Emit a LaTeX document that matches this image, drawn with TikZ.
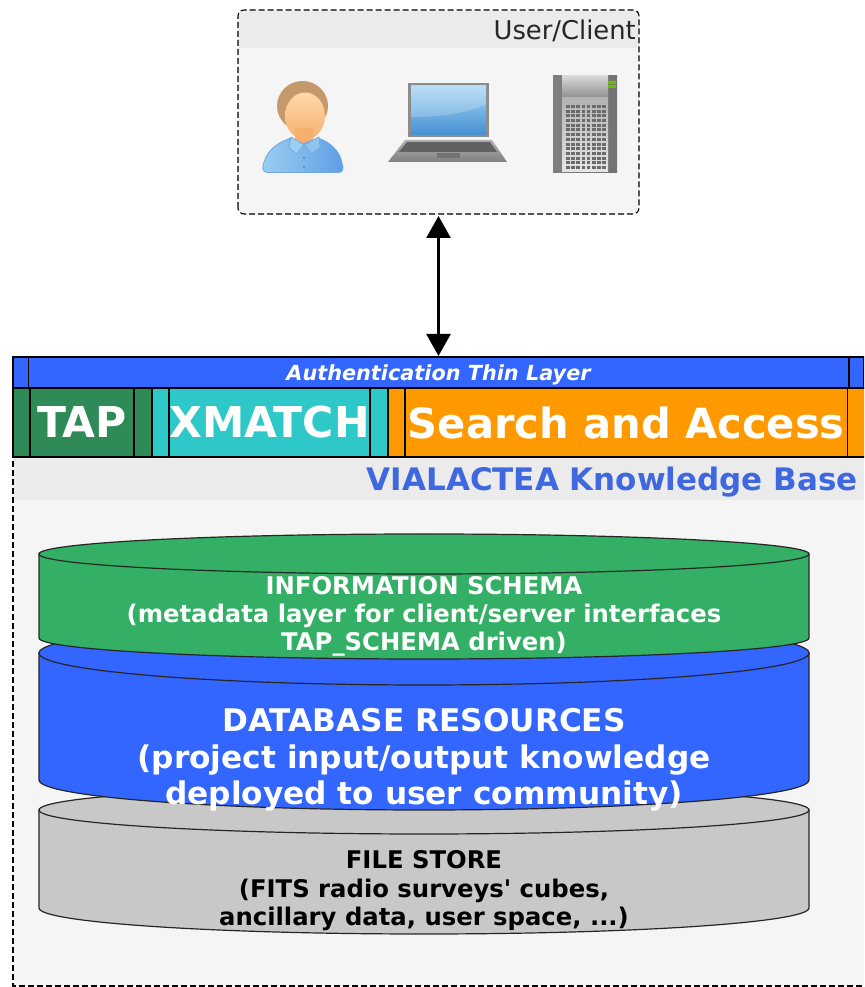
\documentclass[tikz,border=0pt]{standalone}
\usepackage{fontspec}
\setmainfont{DejaVu Sans}
\usetikzlibrary{arrows.meta,calc}
\definecolor{panelc}{HTML}{F5F5F5}
\definecolor{headc}{HTML}{EBEBEB}
\definecolor{authc}{HTML}{3366FF}
\definecolor{tapc}{HTML}{2E8B57}
\definecolor{xmc}{HTML}{2EC8C8}
\definecolor{orc}{HTML}{FF9900}
\definecolor{grnc}{HTML}{33B065}
\definecolor{gryc}{HTML}{C8C8C8}
\definecolor{kbc}{HTML}{3F68E0}
\definecolor{hairc}{HTML}{C49A6C}
\definecolor{facet}{HTML}{FFD9A8}
\definecolor{faceb}{HTML}{F5B070}
\definecolor{shirtl}{HTML}{9CCDF2}
\definecolor{shirtr}{HTML}{5E9FE4}
\definecolor{shirte}{HTML}{6FA8E0}
\definecolor{scrt}{HTML}{A8D6F6}
\definecolor{scrb}{HTML}{4490D2}
\tikzset{
  cell/.style={draw=black,line width=1.2pt,inner sep=0pt,outer sep=0pt,anchor=north west,align=center},
  big/.style={font=\fontsize{42.5}{42.5}\selectfont\bfseries,text=white},
  dashbox/.style={draw=black,line width=1.1pt,dash pattern=on 6pt off 3pt},
  lbl/.style={inner sep=0pt,align=center},
}
% fill colour, top y, bottom y, top radius, bottom radius
\newcommand{\drawcyl}[5]{%
  \draw[fill=#1,line width=1.2pt,draw=black!85]
    (39,#2) -- (39,#3) .. controls (39,{#3-.5523*#5}) and (211.4,{#3-#5}) .. (424,{#3-#5})
    .. controls (636.6,{#3-#5}) and (809,{#3-.5523*#5}) .. (809,#3) -- (809,#2) -- cycle;
  \draw[fill=#1,line width=1.2pt,draw=black!85] (424,#2) ellipse [x radius=385,y radius=#4];
}
\begin{document}
\begin{tikzpicture}[x=1pt,y=1pt]
\useasboundingbox (0,0) rectangle (864,987);
\clip (0,0) rectangle (864,987);
\fill[white] (0,0) rectangle (864,987);
% everything below: y is 987 minus the image row
% user box
\node[fill=panelc,rounded corners=6pt,minimum width=401pt,minimum height=204pt,inner sep=0pt,outer sep=0pt] (userbox) at (438.5,875) {};
\fill[headc] (239,975.5) rectangle (638.5,939);
\draw[dashbox,rounded corners=6pt] (userbox.south west) rectangle (userbox.north east);
\node[lbl,anchor=east,font=\fontsize{25.8}{25.8}\selectfont,text=black!85] (usertitle) at (636,956) {User/Client};
% person
\fill[hairc] (302.5,881) ellipse [x radius=25.5,y radius=25];
\shade[top color=facet,bottom color=faceb] (305,871) ellipse [x radius=20,y radius=23.5];
\shade[top color=faceb,bottom color=faceb] (295,858) rectangle (313,842);
\draw[line width=.8pt,draw=shirte,left color=shirtl,right color=shirtr]
  (267,814.5) .. controls (262,815) and (262,820) .. (264,825)
  .. controls (268,838) and (279,845) .. (291,849) -- (303,843) -- (318,849)
  .. controls (330,845) and (340,836) .. (342,824)
  .. controls (344,818) and (343,815) .. (339,814.5) -- cycle;
\draw[line width=.6pt,draw=shirte,fill=shirtl] (291,850) -- (304,842) -- (296,833) -- (289,840) -- cycle;
\draw[line width=.6pt,draw=shirte,fill=shirtl!80!shirtr] (319,850) -- (304,842) -- (312,833) -- (320,840) -- cycle;
\fill[shirte!70!black] (304,829) circle (1pt) (304,820) circle (1pt);
% laptop
\fill[black!45] (408,904) rectangle (489,850);
\shade[top color=scrt,bottom color=scrb] (411,901) rectangle (486,852);
\fill[white,opacity=.2] (411,901) -- (486,901) -- (486,882) .. controls (460,872) and (435,870) .. (411,870) -- cycle;
\shade[top color=black!30,bottom color=black!50] (405,847) -- (492,847) -- (507,825) -- (388,825) -- cycle;
\fill[black!62] (407,845) -- (490,845) -- (497,835) -- (399,835) -- cycle;
\fill[black!55] (437,834) rectangle (460,829);
% server
\shade[left color=black!50,right color=black!55] (553,911) rectangle (617,814);
\shade[top color=black!15,bottom color=black!45] (562,911) rectangle (608,889);
\shade[top color=black!30,bottom color=black!10] (562,889) rectangle (608,815);
\fill[green!45!yellow!75!black] (608,906) rectangle (616,903) (608,902) rectangle (616,899);
\foreach \c in {0,...,7}{\foreach \r in {0,...,13}{
  \fill[black!58] ({566+\c*5.2},{882-\r*4.7}) rectangle ({569.5+\c*5.2},{879-\r*4.7});}}
% knowledge base panel
\node[fill=panelc,minimum width=871pt,minimum height=530pt,inner sep=0pt,outer sep=0pt,anchor=north west] (kb) at (13,530) {};
\fill[headc] (13.5,530) rectangle (864,487);
\draw[dashbox] (880,1) -- (13,1) -- (13,530);
\node[lbl,anchor=east,font=\fontsize{31}{31}\selectfont\bfseries,text=kbc] (kbtitle) at (858,505) {VIALACTEA Knowledge Base};
% authentication bar
\node[cell,fill=authc,minimum width=851pt,minimum height=31pt] (auth) at (13,630) {};
\draw[line width=1.2pt] (28.5,630) -- (28.5,599) (849,630) -- (849,599);
\node[lbl,font=\fontsize{20.8}{20.8}\selectfont\bfseries\itshape,text=white] (authtext) at (438.5,612) {Authentication Thin Layer};
% service bar
\node[cell,fill=tapc,minimum width=139pt,minimum height=69pt] (tapo) at (13,599) {};
\node[cell,fill=xmc,minimum width=236pt,minimum height=69pt] (xmo) at (152,599) {};
\node[cell,fill=orc,minimum width=490pt,minimum height=69pt] (oro) at (388,599) {};
\node[cell,fill=tapc,big,minimum width=104pt,minimum height=69pt] (tap) at (30,599) {TAP};
\node[cell,fill=xmc,big,minimum width=201pt,minimum height=69pt] (xm) at (169,599) {XMATCH};
\node[cell,fill=orc,big,font=\fontsize{41.6}{41.6}\selectfont\bfseries,minimum width=442.5pt,minimum height=69pt] (sa) at (405,599) {Search and Access};
% cylinders
\drawcyl{gryc}{177}{79}{24}{26}
\drawcyl{authc}{334}{207}{32}{30}
\drawcyl{grnc}{433}{349}{20}{21}
\node[lbl,font=\fontsize{24.3}{28}\selectfont\bfseries,text=white] (schema) at (424,371) {INFORMATION SCHEMA\\(metadata layer for client/server interfaces\\TAP\_SCHEMA driven)};
\node[lbl,font=\fontsize{31.2}{36.5}\selectfont\bfseries,text=white] (dbres) at (424,227) {DATABASE RESOURCES\\(project input/output knowledge\\deployed to user community)};
\node[lbl,font=\fontsize{24.3}{28.5}\selectfont\bfseries,text=black] (files) at (424,96) {FILE STORE\\(FITS radio surveys\textquotesingle{} cubes,\\ancillary data, user space, ...)};
% connector
\draw[{Triangle[length=22pt,width=24pt]}-{Triangle[length=22pt,width=24pt]},line width=2.5pt,shorten <=2pt,shorten >=1pt] (userbox.south) -- (auth.north);
\end{tikzpicture}
\end{document}
